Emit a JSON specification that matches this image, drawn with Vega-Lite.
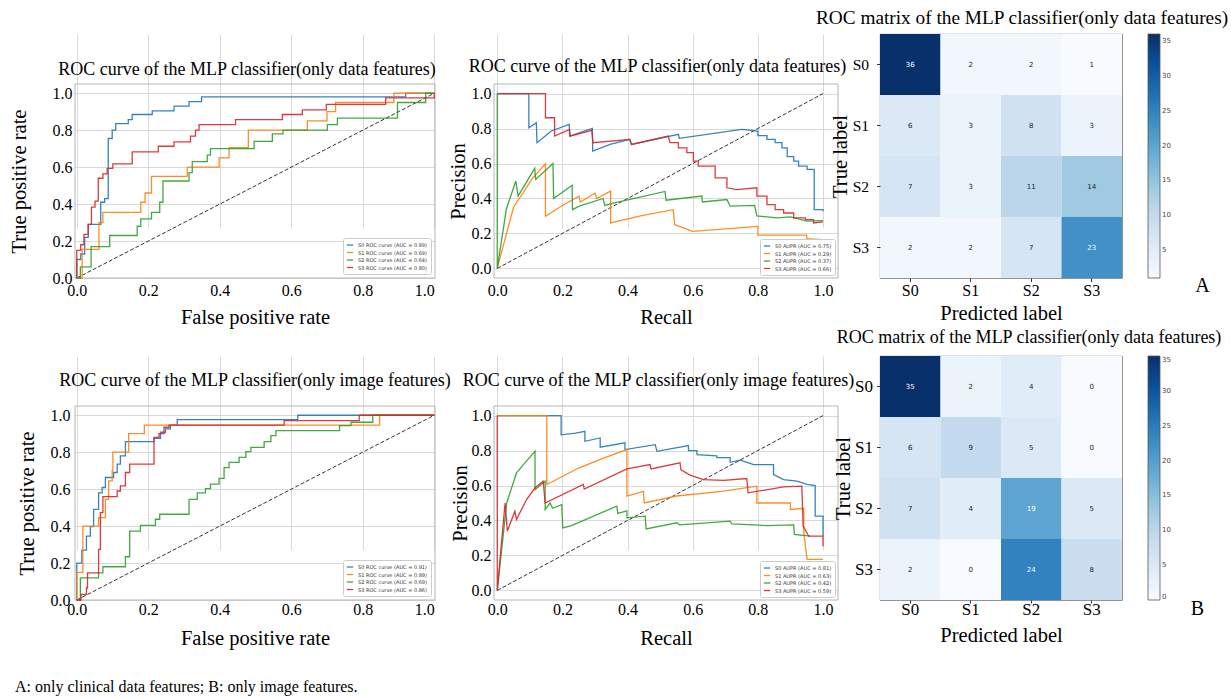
{
"$schema": "https://vega.github.io/schema/vega-lite/v6.json",
"background": "white",
"padding": {"left": 8, "top": 8, "right": 5, "bottom": 5},
"columns": 3,
"spacing": {"row": 78, "column": 42},
"bounds": "flush",
"align": "each",
"resolve": {"scale": {"x": "independent", "y": "independent", "color": "independent"}, "legend": {"color": "independent"}, "axis": {"x": "independent", "y": "independent"}},
"title": {"text": "A: only clinical data features; B: only image features.", "orient": "bottom", "anchor": "start", "frame": "bounds", "offset": 30, "fontSize": 16, "dx": 6, "font": "Liberation Serif", "fontWeight": "normal", "color": "black"},
"config": {
  "font": "Liberation Serif",
  "view": {"stroke": null},
  "axis": {"labelFont": "Liberation Serif", "titleFont": "Liberation Serif", "labelColor": "black", "titleColor": "black", "titleFontWeight": "normal", "domain": false, "ticks": false, "gridColor": "#d9d9d9", "gridWidth": 1, "labelFontSize": 16, "titleFontSize": 20.5},
  "title": {"font": "Liberation Serif", "fontWeight": "normal", "fontSize": 18, "color": "black"},
  "legend": {"labelFont": "DejaVu Sans"}
},
"datasets": {
"roc1": [
{"s":"S0 ROC curve (AUC = 0.89)","x":0,"y":0},{"s":"S0 ROC curve (AUC = 0.89)","x":0,"y":0.10},{"s":"S0 ROC curve (AUC = 0.89)","x":0.011,"y":0.13},{"s":"S0 ROC curve (AUC = 0.89)","x":0.022,"y":0.22},{"s":"S0 ROC curve (AUC = 0.89)","x":0.032,"y":0.29},{"s":"S0 ROC curve (AUC = 0.89)","x":0.067,"y":0.41},{"s":"S0 ROC curve (AUC = 0.89)","x":0.078,"y":0.43},{"s":"S0 ROC curve (AUC = 0.89)","x":0.088,"y":0.755},{"s":"S0 ROC curve (AUC = 0.89)","x":0.099,"y":0.80},{"s":"S0 ROC curve (AUC = 0.89)","x":0.109,"y":0.835},{"s":"S0 ROC curve (AUC = 0.89)","x":0.144,"y":0.857},{"s":"S0 ROC curve (AUC = 0.89)","x":0.155,"y":0.885},{"s":"S0 ROC curve (AUC = 0.89)","x":0.211,"y":0.905},{"s":"S0 ROC curve (AUC = 0.89)","x":0.272,"y":0.93},{"s":"S0 ROC curve (AUC = 0.89)","x":0.314,"y":0.955},{"s":"S0 ROC curve (AUC = 0.89)","x":0.349,"y":0.98},{"s":"S0 ROC curve (AUC = 0.89)","x":0.92,"y":1.0},{"s":"S0 ROC curve (AUC = 0.89)","x":1.0,"y":1.0},
{"s":"S1 ROC curve (AUC = 0.69)","x":0,"y":0},{"s":"S1 ROC curve (AUC = 0.69)","x":0.015,"y":0.155},{"s":"S1 ROC curve (AUC = 0.69)","x":0.062,"y":0.30},{"s":"S1 ROC curve (AUC = 0.69)","x":0.073,"y":0.355},{"s":"S1 ROC curve (AUC = 0.69)","x":0.179,"y":0.41},{"s":"S1 ROC curve (AUC = 0.69)","x":0.191,"y":0.46},{"s":"S1 ROC curve (AUC = 0.69)","x":0.209,"y":0.55},{"s":"S1 ROC curve (AUC = 0.69)","x":0.309,"y":0.60},{"s":"S1 ROC curve (AUC = 0.69)","x":0.398,"y":0.65},{"s":"S1 ROC curve (AUC = 0.69)","x":0.426,"y":0.705},{"s":"S1 ROC curve (AUC = 0.69)","x":0.48,"y":0.80},{"s":"S1 ROC curve (AUC = 0.69)","x":0.645,"y":0.85},{"s":"S1 ROC curve (AUC = 0.69)","x":0.70,"y":0.90},{"s":"S1 ROC curve (AUC = 0.69)","x":0.724,"y":0.95},{"s":"S1 ROC curve (AUC = 0.69)","x":0.887,"y":1.0},{"s":"S1 ROC curve (AUC = 0.69)","x":1.0,"y":1.0},
{"s":"S2 ROC curve (AUC = 0.64)","x":0,"y":0},{"s":"S2 ROC curve (AUC = 0.64)","x":0.01,"y":0.06},{"s":"S2 ROC curve (AUC = 0.64)","x":0.04,"y":0.17},{"s":"S2 ROC curve (AUC = 0.64)","x":0.092,"y":0.23},{"s":"S2 ROC curve (AUC = 0.64)","x":0.169,"y":0.28},{"s":"S2 ROC curve (AUC = 0.64)","x":0.179,"y":0.32},{"s":"S2 ROC curve (AUC = 0.64)","x":0.209,"y":0.355},{"s":"S2 ROC curve (AUC = 0.64)","x":0.232,"y":0.41},{"s":"S2 ROC curve (AUC = 0.64)","x":0.241,"y":0.525},{"s":"S2 ROC curve (AUC = 0.64)","x":0.314,"y":0.57},{"s":"S2 ROC curve (AUC = 0.64)","x":0.323,"y":0.63},{"s":"S2 ROC curve (AUC = 0.64)","x":0.365,"y":0.665},{"s":"S2 ROC curve (AUC = 0.64)","x":0.374,"y":0.70},{"s":"S2 ROC curve (AUC = 0.64)","x":0.496,"y":0.74},{"s":"S2 ROC curve (AUC = 0.64)","x":0.547,"y":0.78},{"s":"S2 ROC curve (AUC = 0.64)","x":0.577,"y":0.80},{"s":"S2 ROC curve (AUC = 0.64)","x":0.701,"y":0.83},{"s":"S2 ROC curve (AUC = 0.64)","x":0.729,"y":0.865},{"s":"S2 ROC curve (AUC = 0.64)","x":0.897,"y":0.95},{"s":"S2 ROC curve (AUC = 0.64)","x":0.976,"y":1.0},{"s":"S2 ROC curve (AUC = 0.64)","x":1.0,"y":1.0},
{"s":"S3 ROC curve (AUC = 0.80)","x":0,"y":0},{"s":"S3 ROC curve (AUC = 0.80)","x":0,"y":0.15},{"s":"S3 ROC curve (AUC = 0.80)","x":0.011,"y":0.18},{"s":"S3 ROC curve (AUC = 0.80)","x":0.02,"y":0.236},{"s":"S3 ROC curve (AUC = 0.80)","x":0.032,"y":0.29},{"s":"S3 ROC curve (AUC = 0.80)","x":0.041,"y":0.384},{"s":"S3 ROC curve (AUC = 0.80)","x":0.051,"y":0.416},{"s":"S3 ROC curve (AUC = 0.80)","x":0.06,"y":0.54},{"s":"S3 ROC curve (AUC = 0.80)","x":0.073,"y":0.564},{"s":"S3 ROC curve (AUC = 0.80)","x":0.085,"y":0.593},{"s":"S3 ROC curve (AUC = 0.80)","x":0.101,"y":0.618},{"s":"S3 ROC curve (AUC = 0.80)","x":0.155,"y":0.683},{"s":"S3 ROC curve (AUC = 0.80)","x":0.228,"y":0.713},{"s":"S3 ROC curve (AUC = 0.80)","x":0.272,"y":0.737},{"s":"S3 ROC curve (AUC = 0.80)","x":0.318,"y":0.768},{"s":"S3 ROC curve (AUC = 0.80)","x":0.332,"y":0.80},{"s":"S3 ROC curve (AUC = 0.80)","x":0.342,"y":0.83},{"s":"S3 ROC curve (AUC = 0.80)","x":0.444,"y":0.857},{"s":"S3 ROC curve (AUC = 0.80)","x":0.575,"y":0.885},{"s":"S3 ROC curve (AUC = 0.80)","x":0.631,"y":0.91},{"s":"S3 ROC curve (AUC = 0.80)","x":0.698,"y":0.94},{"s":"S3 ROC curve (AUC = 0.80)","x":0.864,"y":0.975},{"s":"S3 ROC curve (AUC = 0.80)","x":1.0,"y":0.975},{"s":"S3 ROC curve (AUC = 0.80)","x":1.0,"y":1.0}
],
"roc2": [
{"s":"S0 ROC curve (AUC = 0.91)","x":0,"y":0},{"s":"S0 ROC curve (AUC = 0.91)","x":0,"y":0.2},{"s":"S0 ROC curve (AUC = 0.91)","x":0.014,"y":0.27},{"s":"S0 ROC curve (AUC = 0.91)","x":0.027,"y":0.346},{"s":"S0 ROC curve (AUC = 0.91)","x":0.038,"y":0.397},{"s":"S0 ROC curve (AUC = 0.91)","x":0.047,"y":0.49},{"s":"S0 ROC curve (AUC = 0.91)","x":0.061,"y":0.58},{"s":"S0 ROC curve (AUC = 0.91)","x":0.071,"y":0.609},{"s":"S0 ROC curve (AUC = 0.91)","x":0.08,"y":0.663},{"s":"S0 ROC curve (AUC = 0.91)","x":0.103,"y":0.69},{"s":"S0 ROC curve (AUC = 0.91)","x":0.113,"y":0.735},{"s":"S0 ROC curve (AUC = 0.91)","x":0.122,"y":0.78},{"s":"S0 ROC curve (AUC = 0.91)","x":0.136,"y":0.857},{"s":"S0 ROC curve (AUC = 0.91)","x":0.216,"y":0.875},{"s":"S0 ROC curve (AUC = 0.91)","x":0.234,"y":0.908},{"s":"S0 ROC curve (AUC = 0.91)","x":0.248,"y":0.926},{"s":"S0 ROC curve (AUC = 0.91)","x":0.262,"y":0.947},{"s":"S0 ROC curve (AUC = 0.91)","x":0.281,"y":0.976},{"s":"S0 ROC curve (AUC = 0.91)","x":0.618,"y":1.0},{"s":"S0 ROC curve (AUC = 0.91)","x":1.0,"y":1.0},
{"s":"S1 ROC curve (AUC = 0.89)","x":0,"y":0},{"s":"S1 ROC curve (AUC = 0.89)","x":0,"y":0.15},{"s":"S1 ROC curve (AUC = 0.89)","x":0.017,"y":0.40},{"s":"S1 ROC curve (AUC = 0.89)","x":0.061,"y":0.446},{"s":"S1 ROC curve (AUC = 0.89)","x":0.08,"y":0.545},{"s":"S1 ROC curve (AUC = 0.89)","x":0.089,"y":0.645},{"s":"S1 ROC curve (AUC = 0.89)","x":0.099,"y":0.70},{"s":"S1 ROC curve (AUC = 0.89)","x":0.101,"y":0.80},{"s":"S1 ROC curve (AUC = 0.89)","x":0.145,"y":0.90},{"s":"S1 ROC curve (AUC = 0.89)","x":0.189,"y":0.947},{"s":"S1 ROC curve (AUC = 0.89)","x":0.847,"y":1.0},{"s":"S1 ROC curve (AUC = 0.89)","x":1.0,"y":1.0},
{"s":"S2 ROC curve (AUC = 0.69)","x":0,"y":0},{"s":"S2 ROC curve (AUC = 0.69)","x":0.01,"y":0.12},{"s":"S2 ROC curve (AUC = 0.69)","x":0.061,"y":0.147},{"s":"S2 ROC curve (AUC = 0.69)","x":0.073,"y":0.18},{"s":"S2 ROC curve (AUC = 0.69)","x":0.136,"y":0.234},{"s":"S2 ROC curve (AUC = 0.69)","x":0.148,"y":0.373},{"s":"S2 ROC curve (AUC = 0.69)","x":0.178,"y":0.404},{"s":"S2 ROC curve (AUC = 0.69)","x":0.22,"y":0.437},{"s":"S2 ROC curve (AUC = 0.69)","x":0.232,"y":0.464},{"s":"S2 ROC curve (AUC = 0.69)","x":0.314,"y":0.545},{"s":"S2 ROC curve (AUC = 0.69)","x":0.337,"y":0.58},{"s":"S2 ROC curve (AUC = 0.69)","x":0.36,"y":0.603},{"s":"S2 ROC curve (AUC = 0.69)","x":0.374,"y":0.627},{"s":"S2 ROC curve (AUC = 0.69)","x":0.398,"y":0.658},{"s":"S2 ROC curve (AUC = 0.69)","x":0.412,"y":0.717},{"s":"S2 ROC curve (AUC = 0.69)","x":0.426,"y":0.745},{"s":"S2 ROC curve (AUC = 0.69)","x":0.454,"y":0.772},{"s":"S2 ROC curve (AUC = 0.69)","x":0.473,"y":0.803},{"s":"S2 ROC curve (AUC = 0.69)","x":0.487,"y":0.826},{"s":"S2 ROC curve (AUC = 0.69)","x":0.524,"y":0.857},{"s":"S2 ROC curve (AUC = 0.69)","x":0.543,"y":0.89},{"s":"S2 ROC curve (AUC = 0.69)","x":0.557,"y":0.917},{"s":"S2 ROC curve (AUC = 0.69)","x":0.735,"y":0.944},{"s":"S2 ROC curve (AUC = 0.69)","x":0.767,"y":0.962},{"s":"S2 ROC curve (AUC = 0.69)","x":0.828,"y":1.0},{"s":"S2 ROC curve (AUC = 0.69)","x":1.0,"y":1.0},
{"s":"S3 ROC curve (AUC = 0.86)","x":0,"y":0},{"s":"S3 ROC curve (AUC = 0.86)","x":0.012,"y":0.03},{"s":"S3 ROC curve (AUC = 0.86)","x":0.027,"y":0.065},{"s":"S3 ROC curve (AUC = 0.86)","x":0.03,"y":0.147},{"s":"S3 ROC curve (AUC = 0.86)","x":0.061,"y":0.274},{"s":"S3 ROC curve (AUC = 0.86)","x":0.066,"y":0.473},{"s":"S3 ROC curve (AUC = 0.86)","x":0.073,"y":0.56},{"s":"S3 ROC curve (AUC = 0.86)","x":0.113,"y":0.59},{"s":"S3 ROC curve (AUC = 0.86)","x":0.122,"y":0.618},{"s":"S3 ROC curve (AUC = 0.86)","x":0.136,"y":0.69},{"s":"S3 ROC curve (AUC = 0.86)","x":0.148,"y":0.735},{"s":"S3 ROC curve (AUC = 0.86)","x":0.216,"y":0.88},{"s":"S3 ROC curve (AUC = 0.86)","x":0.23,"y":0.9},{"s":"S3 ROC curve (AUC = 0.86)","x":0.244,"y":0.935},{"s":"S3 ROC curve (AUC = 0.86)","x":0.258,"y":0.947},{"s":"S3 ROC curve (AUC = 0.86)","x":0.58,"y":0.971},{"s":"S3 ROC curve (AUC = 0.86)","x":0.79,"y":1.0},{"s":"S3 ROC curve (AUC = 0.86)","x":1.0,"y":1.0}
],
"pr1": [
{"s":"S0 AUPR (AUC = 0.75)","x":0,"y":1.0},{"s":"S0 AUPR (AUC = 0.75)","x":0.097,"y":1.0},{"s":"S0 AUPR (AUC = 0.75)","x":0.097,"y":0.805},{"s":"S0 AUPR (AUC = 0.75)","x":0.12,"y":0.834},{"s":"S0 AUPR (AUC = 0.75)","x":0.122,"y":0.719},{"s":"S0 AUPR (AUC = 0.75)","x":0.166,"y":0.786},{"s":"S0 AUPR (AUC = 0.75)","x":0.221,"y":0.824},{"s":"S0 AUPR (AUC = 0.75)","x":0.222,"y":0.757},{"s":"S0 AUPR (AUC = 0.75)","x":0.292,"y":0.801},{"s":"S0 AUPR (AUC = 0.75)","x":0.293,"y":0.671},{"s":"S0 AUPR (AUC = 0.75)","x":0.346,"y":0.709},{"s":"S0 AUPR (AUC = 0.75)","x":0.407,"y":0.738},{"s":"S0 AUPR (AUC = 0.75)","x":0.412,"y":0.709},{"s":"S0 AUPR (AUC = 0.75)","x":0.556,"y":0.767},{"s":"S0 AUPR (AUC = 0.75)","x":0.559,"y":0.744},{"s":"S0 AUPR (AUC = 0.75)","x":0.751,"y":0.795},{"s":"S0 AUPR (AUC = 0.75)","x":0.8,"y":0.786},{"s":"S0 AUPR (AUC = 0.75)","x":0.8,"y":0.76},{"s":"S0 AUPR (AUC = 0.75)","x":0.828,"y":0.76},{"s":"S0 AUPR (AUC = 0.75)","x":0.828,"y":0.738},{"s":"S0 AUPR (AUC = 0.75)","x":0.853,"y":0.738},{"s":"S0 AUPR (AUC = 0.75)","x":0.853,"y":0.719},{"s":"S0 AUPR (AUC = 0.75)","x":0.874,"y":0.719},{"s":"S0 AUPR (AUC = 0.75)","x":0.874,"y":0.69},{"s":"S0 AUPR (AUC = 0.75)","x":0.89,"y":0.69},{"s":"S0 AUPR (AUC = 0.75)","x":0.89,"y":0.64},{"s":"S0 AUPR (AUC = 0.75)","x":0.91,"y":0.64},{"s":"S0 AUPR (AUC = 0.75)","x":0.91,"y":0.614},{"s":"S0 AUPR (AUC = 0.75)","x":0.925,"y":0.614},{"s":"S0 AUPR (AUC = 0.75)","x":0.925,"y":0.585},{"s":"S0 AUPR (AUC = 0.75)","x":0.951,"y":0.585},{"s":"S0 AUPR (AUC = 0.75)","x":0.951,"y":0.566},{"s":"S0 AUPR (AUC = 0.75)","x":0.973,"y":0.566},{"s":"S0 AUPR (AUC = 0.75)","x":0.973,"y":0.336},{"s":"S0 AUPR (AUC = 0.75)","x":1.0,"y":0.336},{"s":"S0 AUPR (AUC = 0.75)","x":1.0,"y":0.327},
{"s":"S1 AUPR (AUC = 0.29)","x":0,"y":0},{"s":"S1 AUPR (AUC = 0.29)","x":0.05,"y":0.35},{"s":"S1 AUPR (AUC = 0.29)","x":0.11,"y":0.52},{"s":"S1 AUPR (AUC = 0.29)","x":0.148,"y":0.598},{"s":"S1 AUPR (AUC = 0.29)","x":0.148,"y":0.298},{"s":"S1 AUPR (AUC = 0.29)","x":0.2,"y":0.36},{"s":"S1 AUPR (AUC = 0.29)","x":0.251,"y":0.413},{"s":"S1 AUPR (AUC = 0.29)","x":0.255,"y":0.38},{"s":"S1 AUPR (AUC = 0.29)","x":0.3,"y":0.43},{"s":"S1 AUPR (AUC = 0.29)","x":0.305,"y":0.40},{"s":"S1 AUPR (AUC = 0.29)","x":0.348,"y":0.442},{"s":"S1 AUPR (AUC = 0.29)","x":0.348,"y":0.26},{"s":"S1 AUPR (AUC = 0.29)","x":0.44,"y":0.30},{"s":"S1 AUPR (AUC = 0.29)","x":0.54,"y":0.336},{"s":"S1 AUPR (AUC = 0.29)","x":0.545,"y":0.25},{"s":"S1 AUPR (AUC = 0.29)","x":0.6,"y":0.212},{"s":"S1 AUPR (AUC = 0.29)","x":0.8,"y":0.24},{"s":"S1 AUPR (AUC = 0.29)","x":0.8,"y":0.19},{"s":"S1 AUPR (AUC = 0.29)","x":0.95,"y":0.19},{"s":"S1 AUPR (AUC = 0.29)","x":0.95,"y":0.17},{"s":"S1 AUPR (AUC = 0.29)","x":1.0,"y":0.164},
{"s":"S2 AUPR (AUC = 0.37)","x":0,"y":1.0},{"s":"S2 AUPR (AUC = 0.37)","x":0,"y":0},{"s":"S2 AUPR (AUC = 0.37)","x":0.028,"y":0.34},{"s":"S2 AUPR (AUC = 0.37)","x":0.057,"y":0.5},{"s":"S2 AUPR (AUC = 0.37)","x":0.064,"y":0.413},{"s":"S2 AUPR (AUC = 0.37)","x":0.115,"y":0.572},{"s":"S2 AUPR (AUC = 0.37)","x":0.118,"y":0.509},{"s":"S2 AUPR (AUC = 0.37)","x":0.171,"y":0.60},{"s":"S2 AUPR (AUC = 0.37)","x":0.173,"y":0.40},{"s":"S2 AUPR (AUC = 0.37)","x":0.23,"y":0.476},{"s":"S2 AUPR (AUC = 0.37)","x":0.231,"y":0.336},{"s":"S2 AUPR (AUC = 0.37)","x":0.25,"y":0.355},{"s":"S2 AUPR (AUC = 0.37)","x":0.325,"y":0.40},{"s":"S2 AUPR (AUC = 0.37)","x":0.33,"y":0.36},{"s":"S2 AUPR (AUC = 0.37)","x":0.36,"y":0.375},{"s":"S2 AUPR (AUC = 0.37)","x":0.515,"y":0.44},{"s":"S2 AUPR (AUC = 0.37)","x":0.518,"y":0.39},{"s":"S2 AUPR (AUC = 0.37)","x":0.628,"y":0.414},{"s":"S2 AUPR (AUC = 0.37)","x":0.63,"y":0.38},{"s":"S2 AUPR (AUC = 0.37)","x":0.705,"y":0.394},{"s":"S2 AUPR (AUC = 0.37)","x":0.715,"y":0.356},{"s":"S2 AUPR (AUC = 0.37)","x":0.79,"y":0.36},{"s":"S2 AUPR (AUC = 0.37)","x":0.797,"y":0.30},{"s":"S2 AUPR (AUC = 0.37)","x":0.858,"y":0.289},{"s":"S2 AUPR (AUC = 0.37)","x":0.9,"y":0.295},{"s":"S2 AUPR (AUC = 0.37)","x":0.951,"y":0.27},{"s":"S2 AUPR (AUC = 0.37)","x":1.0,"y":0.273},
{"s":"S3 AUPR (AUC = 0.66)","x":0,"y":1.0},{"s":"S3 AUPR (AUC = 0.66)","x":0.148,"y":1.0},{"s":"S3 AUPR (AUC = 0.66)","x":0.148,"y":0.862},{"s":"S3 AUPR (AUC = 0.66)","x":0.176,"y":0.862},{"s":"S3 AUPR (AUC = 0.66)","x":0.176,"y":0.757},{"s":"S3 AUPR (AUC = 0.66)","x":0.222,"y":0.795},{"s":"S3 AUPR (AUC = 0.66)","x":0.224,"y":0.757},{"s":"S3 AUPR (AUC = 0.66)","x":0.29,"y":0.79},{"s":"S3 AUPR (AUC = 0.66)","x":0.294,"y":0.719},{"s":"S3 AUPR (AUC = 0.66)","x":0.407,"y":0.738},{"s":"S3 AUPR (AUC = 0.66)","x":0.412,"y":0.709},{"s":"S3 AUPR (AUC = 0.66)","x":0.525,"y":0.757},{"s":"S3 AUPR (AUC = 0.66)","x":0.53,"y":0.719},{"s":"S3 AUPR (AUC = 0.66)","x":0.556,"y":0.719},{"s":"S3 AUPR (AUC = 0.66)","x":0.556,"y":0.69},{"s":"S3 AUPR (AUC = 0.66)","x":0.582,"y":0.69},{"s":"S3 AUPR (AUC = 0.66)","x":0.582,"y":0.662},{"s":"S3 AUPR (AUC = 0.66)","x":0.602,"y":0.662},{"s":"S3 AUPR (AUC = 0.66)","x":0.602,"y":0.614},{"s":"S3 AUPR (AUC = 0.66)","x":0.617,"y":0.614},{"s":"S3 AUPR (AUC = 0.66)","x":0.617,"y":0.585},{"s":"S3 AUPR (AUC = 0.66)","x":0.669,"y":0.585},{"s":"S3 AUPR (AUC = 0.66)","x":0.669,"y":0.518},{"s":"S3 AUPR (AUC = 0.66)","x":0.705,"y":0.518},{"s":"S3 AUPR (AUC = 0.66)","x":0.705,"y":0.461},{"s":"S3 AUPR (AUC = 0.66)","x":0.735,"y":0.451},{"s":"S3 AUPR (AUC = 0.66)","x":0.797,"y":0.461},{"s":"S3 AUPR (AUC = 0.66)","x":0.797,"y":0.413},{"s":"S3 AUPR (AUC = 0.66)","x":0.828,"y":0.413},{"s":"S3 AUPR (AUC = 0.66)","x":0.828,"y":0.365},{"s":"S3 AUPR (AUC = 0.66)","x":0.853,"y":0.365},{"s":"S3 AUPR (AUC = 0.66)","x":0.853,"y":0.336},{"s":"S3 AUPR (AUC = 0.66)","x":0.879,"y":0.336},{"s":"S3 AUPR (AUC = 0.66)","x":0.879,"y":0.317},{"s":"S3 AUPR (AUC = 0.66)","x":0.91,"y":0.317},{"s":"S3 AUPR (AUC = 0.66)","x":0.91,"y":0.289},{"s":"S3 AUPR (AUC = 0.66)","x":0.946,"y":0.289},{"s":"S3 AUPR (AUC = 0.66)","x":0.946,"y":0.279},{"s":"S3 AUPR (AUC = 0.66)","x":0.971,"y":0.279},{"s":"S3 AUPR (AUC = 0.66)","x":0.971,"y":0.26},{"s":"S3 AUPR (AUC = 0.66)","x":1.0,"y":0.266}
],
"pr2": [
{"s":"S0 AUPR (AUC = 0.81)","x":0,"y":1.0},{"s":"S0 AUPR (AUC = 0.81)","x":0.196,"y":1.0},{"s":"S0 AUPR (AUC = 0.81)","x":0.196,"y":0.89},{"s":"S0 AUPR (AUC = 0.81)","x":0.24,"y":0.9},{"s":"S0 AUPR (AUC = 0.81)","x":0.269,"y":0.91},{"s":"S0 AUPR (AUC = 0.81)","x":0.269,"y":0.853},{"s":"S0 AUPR (AUC = 0.81)","x":0.316,"y":0.872},{"s":"S0 AUPR (AUC = 0.81)","x":0.316,"y":0.819},{"s":"S0 AUPR (AUC = 0.81)","x":0.392,"y":0.844},{"s":"S0 AUPR (AUC = 0.81)","x":0.392,"y":0.806},{"s":"S0 AUPR (AUC = 0.81)","x":0.485,"y":0.834},{"s":"S0 AUPR (AUC = 0.81)","x":0.49,"y":0.796},{"s":"S0 AUPR (AUC = 0.81)","x":0.587,"y":0.829},{"s":"S0 AUPR (AUC = 0.81)","x":0.587,"y":0.80},{"s":"S0 AUPR (AUC = 0.81)","x":0.613,"y":0.80},{"s":"S0 AUPR (AUC = 0.81)","x":0.613,"y":0.777},{"s":"S0 AUPR (AUC = 0.81)","x":0.674,"y":0.77},{"s":"S0 AUPR (AUC = 0.81)","x":0.674,"y":0.76},{"s":"S0 AUPR (AUC = 0.81)","x":0.715,"y":0.76},{"s":"S0 AUPR (AUC = 0.81)","x":0.715,"y":0.733},{"s":"S0 AUPR (AUC = 0.81)","x":0.746,"y":0.745},{"s":"S0 AUPR (AUC = 0.81)","x":0.787,"y":0.72},{"s":"S0 AUPR (AUC = 0.81)","x":0.848,"y":0.72},{"s":"S0 AUPR (AUC = 0.81)","x":0.848,"y":0.663},{"s":"S0 AUPR (AUC = 0.81)","x":0.879,"y":0.634},{"s":"S0 AUPR (AUC = 0.81)","x":0.92,"y":0.625},{"s":"S0 AUPR (AUC = 0.81)","x":0.951,"y":0.606},{"s":"S0 AUPR (AUC = 0.81)","x":0.976,"y":0.6},{"s":"S0 AUPR (AUC = 0.81)","x":0.976,"y":0.425},{"s":"S0 AUPR (AUC = 0.81)","x":1.0,"y":0.425},{"s":"S0 AUPR (AUC = 0.81)","x":1.0,"y":0.31},
{"s":"S1 AUPR (AUC = 0.63)","x":0,"y":1.0},{"s":"S1 AUPR (AUC = 0.63)","x":0.152,"y":1.0},{"s":"S1 AUPR (AUC = 0.63)","x":0.152,"y":0.606},{"s":"S1 AUPR (AUC = 0.63)","x":0.25,"y":0.7},{"s":"S1 AUPR (AUC = 0.63)","x":0.33,"y":0.76},{"s":"S1 AUPR (AUC = 0.63)","x":0.398,"y":0.806},{"s":"S1 AUPR (AUC = 0.63)","x":0.398,"y":0.539},{"s":"S1 AUPR (AUC = 0.63)","x":0.449,"y":0.566},{"s":"S1 AUPR (AUC = 0.63)","x":0.451,"y":0.5},{"s":"S1 AUPR (AUC = 0.63)","x":0.55,"y":0.54},{"s":"S1 AUPR (AUC = 0.63)","x":0.695,"y":0.568},{"s":"S1 AUPR (AUC = 0.63)","x":0.797,"y":0.596},{"s":"S1 AUPR (AUC = 0.63)","x":0.797,"y":0.5},{"s":"S1 AUPR (AUC = 0.63)","x":0.9,"y":0.5},{"s":"S1 AUPR (AUC = 0.63)","x":0.9,"y":0.463},{"s":"S1 AUPR (AUC = 0.63)","x":0.941,"y":0.47},{"s":"S1 AUPR (AUC = 0.63)","x":0.941,"y":0.33},{"s":"S1 AUPR (AUC = 0.63)","x":0.951,"y":0.177},{"s":"S1 AUPR (AUC = 0.63)","x":1.0,"y":0.177},
{"s":"S2 AUPR (AUC = 0.42)","x":0,"y":0},{"s":"S2 AUPR (AUC = 0.42)","x":0.029,"y":0.5},{"s":"S2 AUPR (AUC = 0.42)","x":0.059,"y":0.672},{"s":"S2 AUPR (AUC = 0.42)","x":0.085,"y":0.73},{"s":"S2 AUPR (AUC = 0.42)","x":0.116,"y":0.796},{"s":"S2 AUPR (AUC = 0.42)","x":0.116,"y":0.577},{"s":"S2 AUPR (AUC = 0.42)","x":0.147,"y":0.625},{"s":"S2 AUPR (AUC = 0.42)","x":0.147,"y":0.463},{"s":"S2 AUPR (AUC = 0.42)","x":0.162,"y":0.5},{"s":"S2 AUPR (AUC = 0.42)","x":0.17,"y":0.47},{"s":"S2 AUPR (AUC = 0.42)","x":0.198,"y":0.491},{"s":"S2 AUPR (AUC = 0.42)","x":0.201,"y":0.358},{"s":"S2 AUPR (AUC = 0.42)","x":0.228,"y":0.37},{"s":"S2 AUPR (AUC = 0.42)","x":0.367,"y":0.482},{"s":"S2 AUPR (AUC = 0.42)","x":0.37,"y":0.44},{"s":"S2 AUPR (AUC = 0.42)","x":0.398,"y":0.455},{"s":"S2 AUPR (AUC = 0.42)","x":0.398,"y":0.415},{"s":"S2 AUPR (AUC = 0.42)","x":0.454,"y":0.425},{"s":"S2 AUPR (AUC = 0.42)","x":0.457,"y":0.352},{"s":"S2 AUPR (AUC = 0.42)","x":0.551,"y":0.387},{"s":"S2 AUPR (AUC = 0.42)","x":0.56,"y":0.375},{"s":"S2 AUPR (AUC = 0.42)","x":0.715,"y":0.396},{"s":"S2 AUPR (AUC = 0.42)","x":0.72,"y":0.38},{"s":"S2 AUPR (AUC = 0.42)","x":0.828,"y":0.371},{"s":"S2 AUPR (AUC = 0.42)","x":0.91,"y":0.375},{"s":"S2 AUPR (AUC = 0.42)","x":0.912,"y":0.32},{"s":"S2 AUPR (AUC = 0.42)","x":0.961,"y":0.31},
{"s":"S3 AUPR (AUC = 0.59)","x":0,"y":1.0},{"s":"S3 AUPR (AUC = 0.59)","x":0,"y":0},{"s":"S3 AUPR (AUC = 0.59)","x":0.024,"y":0.5},{"s":"S3 AUPR (AUC = 0.59)","x":0.031,"y":0.339},{"s":"S3 AUPR (AUC = 0.59)","x":0.054,"y":0.453},{"s":"S3 AUPR (AUC = 0.59)","x":0.059,"y":0.406},{"s":"S3 AUPR (AUC = 0.59)","x":0.09,"y":0.52},{"s":"S3 AUPR (AUC = 0.59)","x":0.116,"y":0.587},{"s":"S3 AUPR (AUC = 0.59)","x":0.141,"y":0.625},{"s":"S3 AUPR (AUC = 0.59)","x":0.147,"y":0.5},{"s":"S3 AUPR (AUC = 0.59)","x":0.264,"y":0.606},{"s":"S3 AUPR (AUC = 0.59)","x":0.267,"y":0.58},{"s":"S3 AUPR (AUC = 0.59)","x":0.398,"y":0.695},{"s":"S3 AUPR (AUC = 0.59)","x":0.469,"y":0.72},{"s":"S3 AUPR (AUC = 0.59)","x":0.472,"y":0.695},{"s":"S3 AUPR (AUC = 0.59)","x":0.561,"y":0.73},{"s":"S3 AUPR (AUC = 0.59)","x":0.564,"y":0.69},{"s":"S3 AUPR (AUC = 0.59)","x":0.592,"y":0.66},{"s":"S3 AUPR (AUC = 0.59)","x":0.633,"y":0.634},{"s":"S3 AUPR (AUC = 0.59)","x":0.695,"y":0.63},{"s":"S3 AUPR (AUC = 0.59)","x":0.766,"y":0.64},{"s":"S3 AUPR (AUC = 0.59)","x":0.77,"y":0.558},{"s":"S3 AUPR (AUC = 0.59)","x":0.879,"y":0.592},{"s":"S3 AUPR (AUC = 0.59)","x":0.935,"y":0.596},{"s":"S3 AUPR (AUC = 0.59)","x":0.939,"y":0.368},{"s":"S3 AUPR (AUC = 0.59)","x":0.956,"y":0.31},{"s":"S3 AUPR (AUC = 0.59)","x":1.0,"y":0.31},{"s":"S3 AUPR (AUC = 0.59)","x":1.0,"y":0.253}
],
"cm1": [
{"t":"S0","p":"S0","v":36},{"t":"S0","p":"S1","v":2},{"t":"S0","p":"S2","v":2},{"t":"S0","p":"S3","v":1},
{"t":"S1","p":"S0","v":6},{"t":"S1","p":"S1","v":3},{"t":"S1","p":"S2","v":8},{"t":"S1","p":"S3","v":3},
{"t":"S2","p":"S0","v":7},{"t":"S2","p":"S1","v":3},{"t":"S2","p":"S2","v":11},{"t":"S2","p":"S3","v":14},
{"t":"S3","p":"S0","v":2},{"t":"S3","p":"S1","v":2},{"t":"S3","p":"S2","v":7},{"t":"S3","p":"S3","v":23}
],
"cm2": [
{"t":"S0","p":"S0","v":35},{"t":"S0","p":"S1","v":2},{"t":"S0","p":"S2","v":4},{"t":"S0","p":"S3","v":0},
{"t":"S1","p":"S0","v":6},{"t":"S1","p":"S1","v":9},{"t":"S1","p":"S2","v":5},{"t":"S1","p":"S3","v":0},
{"t":"S2","p":"S0","v":7},{"t":"S2","p":"S1","v":4},{"t":"S2","p":"S2","v":19},{"t":"S2","p":"S3","v":5},
{"t":"S3","p":"S0","v":2},{"t":"S3","p":"S1","v":0},{"t":"S3","p":"S2","v":24},{"t":"S3","p":"S3","v":8}
]
},
"concat": [
{
 "width": 360, "height": 244,
 "title": {"text": "ROC curve of the MLP classifier(only data features)", "offset": -45, "dx": -8},
 "layer": [
  {"data": {"values": [{}]}, "mark": {"type": "rect", "fillOpacity": 0, "stroke": "#b5b5b5", "strokeWidth": 1},
   "encoding": {
    "x": {"datum": -0.005, "type": "quantitative", "scale": {"domain": [-0.005, 1.002], "nice": false, "zero": false}, "axis": {"title": "False positive rate", "values": [0, 0.2, 0.4, 0.6, 0.8, 1], "format": ".1f", "labelPadding": 4, "titlePadding": 9, "grid": true}},
    "x2": {"datum": 1.002},
    "y": {"datum": 0, "type": "quantitative", "scale": {"domain": [0, 1.05], "range": [244, 50], "nice": false, "zero": false}, "axis": {"title": "True positive rate", "values": [0, 0.2, 0.4, 0.6, 0.8, 1], "format": ".1f", "labelPadding": 3, "titleX": -46, "grid": true}},
    "y2": {"datum": 1.05}}},
  {"data": {"values": [{}]}, "mark": {"type": "rule", "strokeDash": [4, 2], "color": "#333", "strokeWidth": 1},
   "encoding": {"x": {"datum": 0, "type": "quantitative"}, "y": {"datum": 0, "type": "quantitative"}, "x2": {"datum": 1}, "y2": {"datum": 1}}},
  {"data": {"name": "roc1"}, "mark": {"type": "line", "interpolate": "step-after", "strokeWidth": 1.3, "opacity": 0.9},
   "encoding": {"x": {"field": "x", "type": "quantitative"}, "y": {"field": "y", "type": "quantitative"},
    "color": {"field": "s", "type": "nominal", "scale": {"range": ["#1f77b4", "#ff7f0e", "#2ca02c", "#d62728"]},
     "legend": {"title": null, "orient": "bottom-right", "offset": 4, "symbolType": "stroke", "symbolSize": 40, "symbolStrokeWidth": 1.3, "labelFontSize": 5, "labelColor": "#333", "padding": 3, "rowPadding": 0.5, "strokeColor": "#cccccc", "fillColor": "white", "cornerRadius": 2, "labelOffset": 4}},
    "order": {"value": null}}}
 ]
},
{
 "width": 361, "height": 244,
 "title": {"text": "ROC curve of the MLP classifier(only data features)", "offset": -42},
 "layer": [
  {"data": {"values": [{}]}, "mark": {"type": "rect", "fillOpacity": 0, "stroke": "#b5b5b5", "strokeWidth": 1},
   "encoding": {
    "x": {"datum": -0.01, "type": "quantitative", "scale": {"domain": [-0.01, 1.046], "range": [17, 361], "nice": false, "zero": false}, "axis": {"title": "Recall", "values": [0, 0.2, 0.4, 0.6, 0.8, 1], "format": ".1f", "labelPadding": 4, "titlePadding": 9, "grid": true}},
    "x2": {"datum": 1.046},
    "y": {"datum": -0.055, "type": "quantitative", "scale": {"domain": [-0.055, 1.055], "range": [244, 50], "nice": false, "zero": false}, "axis": {"title": "Precision", "values": [0, 0.2, 0.4, 0.6, 0.8, 1], "format": ".1f", "labelPadding": 3, "offset": -17, "titleX": -26, "grid": true}},
    "y2": {"datum": 1.055}}},
  {"data": {"values": [{}]}, "mark": {"type": "rule", "strokeDash": [4, 2], "color": "#333", "strokeWidth": 1},
   "encoding": {"x": {"datum": 0, "type": "quantitative"}, "y": {"datum": 0, "type": "quantitative"}, "x2": {"datum": 1}, "y2": {"datum": 1}}},
  {"data": {"name": "pr1"}, "mark": {"type": "line", "strokeWidth": 1.3, "opacity": 0.9},
   "encoding": {"x": {"field": "x", "type": "quantitative"}, "y": {"field": "y", "type": "quantitative"},
    "color": {"field": "s", "type": "nominal", "scale": {"range": ["#1f77b4", "#ff7f0e", "#2ca02c", "#d62728"]},
     "legend": {"title": null, "orient": "bottom-right", "offset": 3, "symbolType": "stroke", "symbolSize": 40, "symbolStrokeWidth": 1.3, "labelFontSize": 5, "labelColor": "#333", "padding": 3, "rowPadding": 0.5, "strokeColor": "#cccccc", "fillColor": "white", "cornerRadius": 2, "labelOffset": 4}},
    "order": {"value": null}}}
 ]
},
{
 "width": 242, "height": 244,
 "title": {"text": "ROC matrix of the MLP classifier(only data features)", "offset": 6, "dx": 21, "fontSize": 19.3},
 "view": {"stroke": "#555", "strokeWidth": 0.8},
 "data": {"name": "cm1"},
 "resolve": {"axis": {"x": "independent"}},
 "layer": [
  {"mark": "rect",
   "encoding": {
    "x": {"field": "p", "type": "ordinal", "axis": {"title": "Predicted label", "labelAngle": 0, "labelFontSize": 16, "ticks": true, "tickSize": 3.5, "tickColor": "#333", "labelPadding": 1, "titlePadding": 5}},
    "y": {"field": "t", "type": "ordinal", "axis": {"title": "True label", "labelFontSize": 15.5, "ticks": true, "tickSize": 3.5, "tickColor": "#333", "labelPadding": 8, "titleX": -30}},
    "color": {"field": "v", "type": "quantitative",
     "scale": {"domain": [1, 5.375, 9.75, 14.125, 18.5, 22.875, 27.25, 31.625, 36], "range": ["#f7fbff", "#deebf7", "#c6dbef", "#9ecae1", "#6baed6", "#4292c6", "#2171b5", "#08519c", "#08306b"]},
     "legend": {"title": null, "orient": "none", "legendX": 268, "legendY": 0, "direction": "vertical", "gradientLength": 244, "gradientThickness": 12, "gradientStrokeColor": "#555", "gradientStrokeWidth": 0.8, "labelFontSize": 7, "labelColor": "#444", "values": [5, 10, 15, 20, 25, 30, 35], "padding": 0}}}},
  {"mark": {"type": "text", "fontSize": 7, "font": "DejaVu Sans"},
   "encoding": {"x": {"field": "p", "type": "ordinal", "axis": {"orient": "top", "title": "A", "labels": false, "ticks": false, "domain": false, "grid": false, "titleX": 322, "titleY": 251, "titleAngle": 0, "titleAlign": "center", "titleBaseline": "middle", "titleFontSize": 20}}, "y": {"field": "t", "type": "ordinal"}, "text": {"field": "v", "type": "quantitative"},
    "color": {"condition": {"test": "datum.v > 18", "value": "white"}, "value": "#222222"}}}
 ]
},
{
 "width": 360, "height": 244,
 "title": {"text": "ROC curve of the MLP classifier(only image features)", "offset": -34},
 "layer": [
  {"data": {"values": [{}]}, "mark": {"type": "rect", "fillOpacity": 0, "stroke": "#b5b5b5", "strokeWidth": 1},
   "encoding": {
    "x": {"datum": -0.005, "type": "quantitative", "scale": {"domain": [-0.005, 1.002], "nice": false, "zero": false}, "axis": {"title": "False positive rate", "values": [0, 0.2, 0.4, 0.6, 0.8, 1], "format": ".1f", "labelPadding": 1, "titlePadding": 11, "grid": true}},
    "x2": {"datum": 1.002},
    "y": {"datum": 0, "type": "quantitative", "scale": {"domain": [0, 1.05], "range": [244, 50], "nice": false, "zero": false}, "axis": {"title": "True positive rate", "values": [0, 0.2, 0.4, 0.6, 0.8, 1], "format": ".1f", "labelPadding": 5, "titleX": -38, "grid": true}},
    "y2": {"datum": 1.05}}},
  {"data": {"values": [{}]}, "mark": {"type": "rule", "strokeDash": [4, 2], "color": "#333", "strokeWidth": 1},
   "encoding": {"x": {"datum": 0, "type": "quantitative"}, "y": {"datum": 0, "type": "quantitative"}, "x2": {"datum": 1}, "y2": {"datum": 1}}},
  {"data": {"name": "roc2"}, "mark": {"type": "line", "interpolate": "step-after", "strokeWidth": 1.3, "opacity": 0.9},
   "encoding": {"x": {"field": "x", "type": "quantitative"}, "y": {"field": "y", "type": "quantitative"},
    "color": {"field": "s", "type": "nominal", "scale": {"range": ["#1f77b4", "#ff7f0e", "#2ca02c", "#d62728"]},
     "legend": {"title": null, "orient": "bottom-right", "offset": 4, "symbolType": "stroke", "symbolSize": 40, "symbolStrokeWidth": 1.3, "labelFontSize": 5, "labelColor": "#333", "padding": 3, "rowPadding": 0.5, "strokeColor": "#cccccc", "fillColor": "white", "cornerRadius": 2, "labelOffset": 4}},
    "order": {"value": null}}}
 ]
},
{
 "width": 361, "height": 244,
 "title": {"text": "ROC curve of the MLP classifier(only image features)", "offset": -34, "dx": 1},
 "layer": [
  {"data": {"values": [{}]}, "mark": {"type": "rect", "fillOpacity": 0, "stroke": "#b5b5b5", "strokeWidth": 1},
   "encoding": {
    "x": {"datum": -0.01, "type": "quantitative", "scale": {"domain": [-0.01, 1.046], "range": [17, 361], "nice": false, "zero": false}, "axis": {"title": "Recall", "values": [0, 0.2, 0.4, 0.6, 0.8, 1], "format": ".1f", "labelPadding": 1, "titlePadding": 11, "grid": true}},
    "x2": {"datum": 1.046},
    "y": {"datum": -0.055, "type": "quantitative", "scale": {"domain": [-0.055, 1.055], "range": [244, 50], "nice": false, "zero": false}, "axis": {"title": "Precision", "values": [0, 0.2, 0.4, 0.6, 0.8, 1], "format": ".1f", "labelPadding": 3, "offset": -17, "titleX": -24, "grid": true}},
    "y2": {"datum": 1.055}}},
  {"data": {"values": [{}]}, "mark": {"type": "rule", "strokeDash": [4, 2], "color": "#333", "strokeWidth": 1},
   "encoding": {"x": {"datum": 0, "type": "quantitative"}, "y": {"datum": 0, "type": "quantitative"}, "x2": {"datum": 1}, "y2": {"datum": 1}}},
  {"data": {"name": "pr2"}, "mark": {"type": "line", "strokeWidth": 1.3, "opacity": 0.9},
   "encoding": {"x": {"field": "x", "type": "quantitative"}, "y": {"field": "y", "type": "quantitative"},
    "color": {"field": "s", "type": "nominal", "scale": {"range": ["#1f77b4", "#ff7f0e", "#2ca02c", "#d62728"]},
     "legend": {"title": null, "orient": "bottom-right", "offset": 3, "symbolType": "stroke", "symbolSize": 40, "symbolStrokeWidth": 1.3, "labelFontSize": 5, "labelColor": "#333", "padding": 3, "rowPadding": 0.5, "strokeColor": "#cccccc", "fillColor": "white", "cornerRadius": 2, "labelOffset": 4}},
    "order": {"value": null}}}
 ]
},
{
 "width": 242, "height": 244,
 "title": {"text": "ROC matrix of the MLP classifier(only data features)", "offset": 9, "dx": 28, "fontSize": 18},
 "view": {"stroke": "#555", "strokeWidth": 0.8},
 "data": {"name": "cm2"},
 "resolve": {"axis": {"x": "independent"}},
 "layer": [
  {"mark": "rect",
   "encoding": {
    "x": {"field": "p", "type": "ordinal", "axis": {"title": "Predicted label", "labelAngle": 0, "labelFontSize": 17, "ticks": true, "tickSize": 3, "tickColor": "#333", "labelPadding": -2, "titlePadding": 8}},
    "y": {"field": "t", "type": "ordinal", "axis": {"title": "True label", "labelFontSize": 17, "ticks": true, "tickSize": 3.5, "tickColor": "#333", "labelPadding": 4, "titleX": -27}},
    "color": {"field": "v", "type": "quantitative",
     "scale": {"domain": [0, 4.375, 8.75, 13.125, 17.5, 21.875, 26.25, 30.625, 35], "range": ["#f7fbff", "#deebf7", "#c6dbef", "#9ecae1", "#6baed6", "#4292c6", "#2171b5", "#08519c", "#08306b"]},
     "legend": {"title": null, "orient": "none", "legendX": 268, "legendY": 0, "direction": "vertical", "gradientLength": 244, "gradientThickness": 12, "gradientStrokeColor": "#555", "gradientStrokeWidth": 0.8, "labelFontSize": 7, "labelColor": "#444", "values": [0, 5, 10, 15, 20, 25, 30, 35], "padding": 0}}}},
  {"mark": {"type": "text", "fontSize": 7, "font": "DejaVu Sans"},
   "encoding": {"x": {"field": "p", "type": "ordinal", "axis": {"orient": "top", "title": "B", "labels": false, "ticks": false, "domain": false, "grid": false, "titleX": 317, "titleY": 252, "titleAngle": 0, "titleAlign": "center", "titleBaseline": "middle", "titleFontSize": 20}}, "y": {"field": "t", "type": "ordinal"}, "text": {"field": "v", "type": "quantitative"},
    "color": {"condition": {"test": "datum.v > 17.5", "value": "white"}, "value": "#222222"}}}
 ]
}
]
}
